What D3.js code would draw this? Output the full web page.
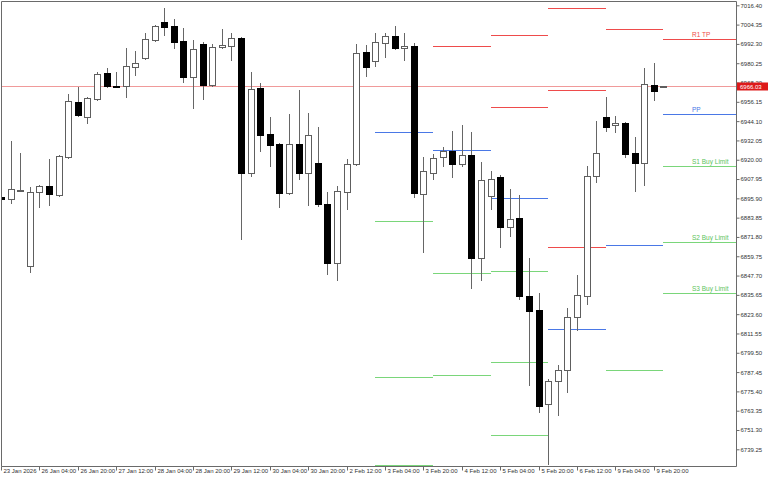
<!DOCTYPE html>
<html>
<head>
<meta charset="utf-8">
<script src="https://cdn.jsdelivr.net/npm/d3@7/dist/d3.min.js"></script>
<style>
  html, body { margin: 0; padding: 0; background: #fff; }
  svg { display: block; font-family: 'Liberation Sans', Arial, sans-serif; }
</style>
</head>
<body>
<div id="chart"></div>
<script>
// H4 candles, one entry per bar
const barOpen = [
  6896.7, 6895.5, 6901.1, 6853.7, 6899.9, 6903.6, 6898.0, 6921.7, 6956.0, 6946.7,
  6957.9, 6974.1, 6966.1, 6966.0, 6977.9, 6983.5, 6994.7, 7006.0, 7003.5, 6994.1,
  6971.6, 6992.2, 6966.7, 6990.4, 6991.0, 6996.0, 6911.7, 6964.8, 6936.1, 6929.8,
  6899.2, 6929.8, 6911.7, 6918.0, 6892.4, 6855.5, 6899.9, 6917.3, 6987.2, 6981.6,
  6992.9, 6997.2, 6990.2, 6991.0, 6898.6, 6911.7, 6921.7, 6925.5, 6917.3, 6923.0,
  6858.7, 6897.4, 6909.2, 6878.0, 6883.6, 6834.9, 6826.2, 6767.5, 6781.9, 6788.8,
  6821.8, 6834.9, 6909.9, 6946.7, 6941.2, 6942.9, 6924.2, 6918.0, 6966.7, 6965.5
];
const barHigh = [
  6897.0, 6931.7, 6924.2, 6903.0, 6904.2, 6920.5, 6922.9, 6961.0, 6965.4, 6959.2,
  6974.8, 6977.3, 6974.8, 6989.7, 6987.9, 6999.1, 7004.1, 7014.7, 7007.9, 7002.2,
  6994.7, 6993.5, 6992.2, 7001.6, 6999.1, 6996.6, 6974.8, 6967.9, 6946.7, 6930.5,
  6948.6, 6963.5, 6949.2, 6940.4, 6899.9, 6903.6, 6920.5, 6992.2, 6991.6, 6999.1,
  6999.1, 7003.5, 6999.1, 6992.9, 6921.7, 6923.6, 6928.0, 6937.9, 6941.7, 6937.3,
  6918.6, 6913.0, 6910.5, 6901.7, 6898.0, 6858.7, 6836.8, 6783.1, 6791.9, 6827.5,
  6848.1, 6916.1, 6944.2, 6959.2, 6947.3, 6943.6, 6934.2, 6977.3, 6980.4, 6966.3
];
const barLow = [
  6894.9, 6893.0, 6900.5, 6849.9, 6890.5, 6891.7, 6897.4, 6921.1, 6947.3, 6942.9,
  6957.3, 6965.4, 6965.4, 6959.2, 6972.9, 6982.9, 6994.1, 6997.9, 6989.7, 6968.5,
  6952.3, 6957.9, 6966.0, 6989.7, 6982.3, 6870.5, 6909.9, 6925.5, 6916.1, 6890.5,
  6898.6, 6908.0, 6891.7, 6891.1, 6848.7, 6844.9, 6889.2, 6916.7, 6972.3, 6978.5,
  6984.1, 6989.1, 6982.3, 6896.7, 6862.4, 6908.0, 6916.1, 6909.2, 6916.1, 6839.9,
  6844.9, 6889.2, 6865.5, 6872.4, 6833.1, 6779.4, 6762.5, 6730.1, 6760.7, 6775.0,
  6813.7, 6830.0, 6906.1, 6937.9, 6937.3, 6921.7, 6900.5, 6904.2, 6957.3, 6965.3
];
const barClose = [
  6895.5, 6901.7, 6901.2, 6899.9, 6903.6, 6898.6, 6922.3, 6956.7, 6947.9, 6958.5,
  6973.5, 6966.0, 6965.9, 6978.5, 6980.4, 6995.4, 7003.5, 7002.9, 6993.5, 6971.6,
  6989.1, 6966.7, 6990.4, 6991.6, 6996.0, 6911.7, 6964.2, 6935.4, 6929.2, 6899.2,
  6929.8, 6911.7, 6935.4, 6892.4, 6855.5, 6900.5, 6917.3, 6986.6, 6977.9, 6993.5,
  6997.2, 6989.7, 6991.2, 6899.2, 6913.0, 6921.1, 6925.5, 6917.3, 6923.0, 6858.7,
  6907.4, 6908.0, 6878.0, 6883.0, 6834.9, 6825.6, 6766.3, 6781.9, 6788.8, 6821.8,
  6835.6, 6909.9, 6924.2, 6940.4, 6942.7, 6923.6, 6918.0, 6967.3, 6962.9, 6966.03
];

// time labels, one every 4 bars
const timeLabels = [
  '23 Jan 2026', '26 Jan 04:00', '26 Jan 20:00', '27 Jan 12:00', '28 Jan 04:00',
  '28 Jan 20:00', '29 Jan 12:00', '30 Jan 04:00', '30 Jan 20:00', '2 Feb 12:00',
  '3 Feb 04:00', '3 Feb 20:00', '4 Feb 12:00', '5 Feb 04:00', '5 Feb 20:00',
  '6 Feb 12:00', '9 Feb 04:00', '9 Feb 20:00'
];

const priceTicks = [
  7016.40, 7004.35, 6992.30, 6980.25, 6968.20, 6956.15, 6944.10, 6932.05,
  6920.00, 6907.95, 6895.90, 6883.85, 6871.80, 6859.75, 6847.70, 6835.65,
  6823.60, 6811.55, 6799.50, 6787.45, 6775.40, 6763.35, 6751.30, 6739.25
];
const lastPrice = 6966.03;

// daily pivot levels, each set starts at the first bar of the day
const dayStart = [39, 45, 51, 57, 63, 69];
const levelR3 = [null, null, null, 7014.7, null, null];
const levelR2 = [null, null, 6997.9, 6963.5, null, null];
const levelR1 = [null, 6991.0, 6952.9, 6865.5, 7001.6, 6995.6];
const levelPP = [6937.3, 6926.1, 6896.1, 6814.3, 6866.8, 6948.5];
const levelS1 = [6881.8, 6849.3, 6850.5, null, 6788.7, 6916.1];
const levelS2 = [6784.4, 6785.6, 6793.7, null, null, 6868.6];
const levelS3 = [6729.4, null, 6748.2, null, null, 6836.8];
const currentLabels = ['R1 TP', 'PP', 'S1 Buy Limit', 'S2 Buy Limit', 'S3 Buy Limit'];

const W = 768, H = 480;
const plot = { left: 1, top: 1, right: 736, bottom: 466 };
const RED = '#ee4b4b', BLUE = '#4a78e6', GREEN = '#7ad67a';

const svg = d3.select('#chart')
  .append('svg')
  .attr('width', W)
  .attr('height', H);

svg.append('defs').append('clipPath').attr('id', 'plot-clip')
  .append('rect')
  .attr('x', plot.left).attr('y', plot.top)
  .attr('width', plot.right - plot.left).attr('height', plot.bottom - plot.top);

const x = d3.scaleLinear().domain([0, 69]).range([1, 663.4]);
const y = d3.scaleLinear().domain([6739.25, 7016.40]).range([449.3, 5.3]);

const py = v => Math.round(y(v)) + 0.5;

const g = svg.append('g').attr('clip-path', 'url(#plot-clip)');

// pivot segments
const levelSets = [
  { values: levelR3, color: RED },
  { values: levelR2, color: RED },
  { values: levelR1, color: RED },
  { values: levelPP, color: BLUE },
  { values: levelS1, color: GREEN },
  { values: levelS2, color: GREEN },
  { values: levelS3, color: GREEN }
];
const segments = [];
levelSets.forEach(set => {
  set.values.forEach((v, k) => {
    if (v == null) return;
    const x0 = x(dayStart[k]);
    const x1 = k < dayStart.length - 1 ? x(dayStart[k + 1]) : plot.right;
    segments.push({ v, x0, x1, color: set.color });
  });
});
g.selectAll('.level')
  .data(segments)
  .join('line')
  .attr('class', 'level')
  .attr('x1', d => Math.round(d.x0))
  .attr('x2', d => Math.round(d.x1))
  .attr('y1', d => py(d.v))
  .attr('y2', d => py(d.v))
  .attr('stroke', d => d.color)
  .attr('stroke-width', 1);

// current price line
g.append('line')
  .attr('x1', plot.left).attr('x2', plot.right)
  .attr('y1', py(lastPrice)).attr('y2', py(lastPrice))
  .attr('stroke', '#f09a9a').attr('stroke-width', 1);

// candles
const bars = barOpen.map((o, i) => ({
  i, o, h: barHigh[i], l: barLow[i], c: barClose[i]
}));
const cg = g.selectAll('.candle')
  .data(bars)
  .join('g')
  .attr('class', 'candle');

cg.append('line')
  .attr('x1', d => Math.round(x(d.i)) + 0.5)
  .attr('x2', d => Math.round(x(d.i)) + 0.5)
  .attr('y1', d => Math.round(y(d.h)))
  .attr('y2', d => Math.round(y(d.l)) + 1)
  .attr('stroke', '#666')
  .attr('stroke-width', 1);

cg.append('rect')
  .attr('x', d => Math.round(x(d.i)) - 2.5)
  .attr('y', d => Math.round(y(Math.max(d.o, d.c))) + 0.5)
  .attr('width', 6)
  .attr('height', d => Math.max(1, Math.round(Math.abs(y(d.o) - y(d.c)))))
  .attr('fill', d => d.c >= d.o ? '#fff' : '#000')
  .attr('stroke', d => d.c >= d.o ? '#5e5e5e' : '#000')
  .attr('stroke-width', 1);

// labels of the current day levels
const curIdx = dayStart.length - 1;
const currentValues = [levelR1[curIdx], levelPP[curIdx], levelS1[curIdx], levelS2[curIdx], levelS3[curIdx]];
const labelColors = [RED, BLUE, '#5cc45c', '#5cc45c', '#5cc45c'];
svg.selectAll('.level-label')
  .data(currentLabels)
  .join('text')
  .attr('class', 'level-label')
  .attr('x', 692)
  .attr('y', (d, k) => py(currentValues[k]) - 2.5)
  .attr('font-size', '6.5px')
  .attr('fill', (d, k) => labelColors[k])
  .text(d => d);

// frame
svg.append('path')
  .attr('d', `M${plot.left + 0.5},${plot.bottom + 0.5}V${plot.top + 0.5}H${plot.right + 0.5}V${plot.bottom + 0.5}H${plot.left + 0.5}`)
  .attr('fill', 'none')
  .attr('stroke', '#6a6a6a')
  .attr('stroke-width', 1);

// price axis
const yAxis = svg.append('g')
  .attr('transform', `translate(${plot.right + 0.5},0)`)
  .call(d3.axisRight(y).tickValues(priceTicks).tickSize(3).tickFormat(d3.format('.2f')));
yAxis.select('.domain').remove();
yAxis.selectAll('.tick line').attr('stroke', '#6a6a6a');
yAxis.selectAll('.tick text')
  .attr('x', 4)
  .attr('font-size', '6px')
  .attr('font-family', 'Liberation Sans, Arial, sans-serif')
  .attr('fill', '#333');

// last price tag, drawn over the tick label behind it as in the terminal
svg.append('rect')
  .attr('x', plot.right + 1)
  .attr('y', py(lastPrice) - 4)
  .attr('width', W - plot.right - 1)
  .attr('height', 8)
  .attr('fill', '#dd1a1a');
svg.append('text')
  .attr('x', plot.right + 4)
  .attr('y', py(lastPrice) + 2)
  .attr('font-size', '6px')
  .attr('fill', '#fff')
  .text(lastPrice.toFixed(2));

// time axis
const timeIdx = timeLabels.map((t, k) => k * 4);
const xAxis = svg.append('g')
  .attr('transform', `translate(0,${plot.bottom + 0.5})`)
  .call(d3.axisBottom(x).tickValues(timeIdx).tickSize(4).tickFormat((d, k) => timeLabels[k]));
xAxis.select('.domain').remove();
xAxis.selectAll('.tick').attr('transform', d => `translate(${Math.round(x(d)) + 0.5},0)`);
xAxis.selectAll('.tick line').attr('stroke', '#6a6a6a');
xAxis.selectAll('.tick text')
  .attr('text-anchor', 'start')
  .attr('x', 2)
  .attr('y', 2)
  .attr('font-size', '6px')
  .attr('font-family', 'Liberation Sans, Arial, sans-serif')
  .attr('fill', '#333');
</script>
</body>
</html>
